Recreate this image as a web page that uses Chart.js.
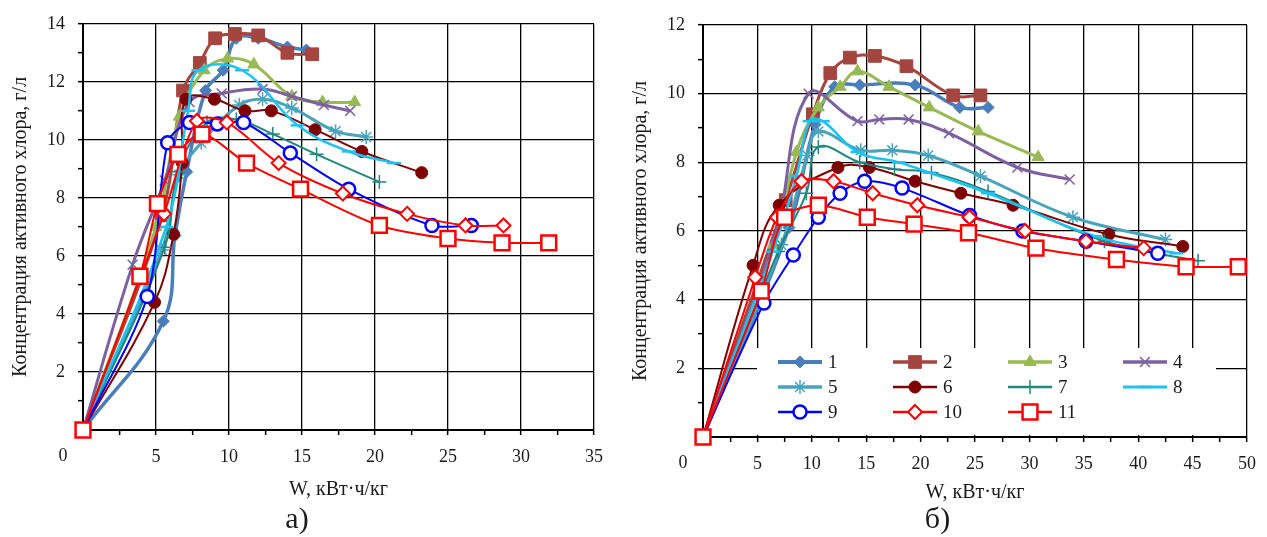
<!DOCTYPE html>
<html>
<head>
<meta charset="utf-8">
<script src="https://cdn.jsdelivr.net/npm/chart.js@4.4.1/dist/chart.umd.min.js"></script>
<style>
    body { margin: 0; background: #fff; width: 1267px; height: 537px; overflow: hidden; position: relative; }
    .box { position: absolute; top: 0; height: 537px; }
    #boxA { left: 0; width: 620px; }
    #boxB { left: 620px; width: 647px; }
</style>
</head>
<body>
<div class="box" id="boxA"><canvas id="chartA"></canvas></div>
<div class="box" id="boxB"><canvas id="chartB"></canvas></div>
<script>
// series names (legend numbers)
const seriesLabels = ["1", "2", "3", "4", "5", "6", "7", "8", "9", "10", "11"];

// panel a) : [W, concentration]
const a1 = [[0,0],[5.5,3.75],[6.3,6.7],[7.1,8.9],[8.4,11.7],[9.6,12.4],[10.5,13.5],[12.0,13.5],[14.0,13.2],[15.3,13.1]];
const a2 = [[0,0],[5.4,7.4],[6.85,11.7],[8.0,12.65],[9.05,13.5],[10.4,13.65],[12.0,13.6],[14.0,13.0],[15.7,12.95]];
const a3 = [[0,0],[5.0,7.0],[6.6,10.8],[8.3,12.4],[9.9,12.8],[11.7,12.6],[14.3,11.5],[16.4,11.3],[18.6,11.3]];
const a4 = [[0,0],[3.4,5.7],[5.6,8.6],[7.3,11.3],[9.5,11.6],[12.3,11.75],[14.3,11.5],[16.5,11.2],[18.3,11.0]];
const a5 = [[0,0],[5.4,6.2],[6.6,8.8],[8.1,9.9],[10.7,11.2],[12.3,11.4],[14.3,11.1],[17.3,10.3],[19.4,10.1]];
const a6 = [[0,0],[4.9,4.4],[6.2,6.75],[6.8,9.2],[7.05,11.4],[9.0,11.4],[11.1,11.0],[12.9,11.0],[15.9,10.35],[19.1,9.6],[23.2,8.87]];
const a7 = [[0,0],[5.6,6.3],[6.5,8.9],[8.5,10.6],[10.5,10.7],[13.0,10.2],[16.0,9.5],[20.3,8.55]];
const a8 = [[0,0],[5.7,7.0],[7.2,11.0],[7.9,12.4],[10.9,12.4],[14.7,10.5],[18.2,9.6],[21.3,9.2]];
const a9 = [[0,0],[4.4,4.6],[5.8,9.9],[7.3,10.6],[9.2,10.55],[11.0,10.6],[14.2,9.55],[18.2,8.3],[23.9,7.05],[26.6,7.05]];
const a10 = [[0,0],[5.55,7.45],[7.8,10.65],[9.85,10.6],[13.4,9.2],[17.8,8.15],[22.2,7.45],[26.2,7.05],[28.8,7.05]];
const a11 = [[0,0],[3.9,5.3],[5.1,7.8],[6.5,9.5],[8.15,10.2],[11.2,9.2],[14.9,8.3],[20.3,7.05],[25.0,6.6],[28.7,6.45],[31.9,6.45]];

// panel б)
const b1 = [[0,0],[7.9,6.1],[10.3,9.1],[12.1,10.2],[14.4,10.25],[19.5,10.25],[23.6,9.6],[26.2,9.6]];
const b2 = [[0,0],[7.6,6.9],[10.1,9.4],[11.7,10.6],[13.5,11.05],[15.8,11.1],[18.7,10.8],[23.0,9.95],[25.5,9.95]];
const b3 = [[0,0],[6.5,5.6],[8.6,8.3],[10.6,9.6],[12.6,10.2],[14.2,10.65],[17.1,10.2],[20.8,9.6],[25.3,8.9],[30.8,8.15]];
const b4 = [[0,0],[6.6,5.8],[9.7,10.0],[14.2,9.2],[16.2,9.25],[18.9,9.25],[22.6,8.85],[28.9,7.85],[33.7,7.5]];
const b5 = [[0,0],[7.2,5.6],[9.6,8.2],[10.6,8.9],[14.5,8.35],[17.4,8.35],[20.7,8.2],[25.5,7.6],[34.0,6.4],[42.5,5.75]];
const b6 = [[0,0],[4.6,5.0],[7.0,6.75],[12.4,7.85],[15.3,7.85],[19.5,7.45],[23.7,7.1],[28.5,6.75],[37.3,5.9],[44.1,5.55]];
const b7 = [[0,0],[6.9,5.4],[9.5,7.1],[10.6,8.45],[14.4,8.0],[17.6,7.8],[21.0,7.7],[26.2,7.15],[36.9,5.7],[45.5,5.13]];
const b8 = [[0,0],[6.4,5.4],[8.6,7.6],[9.8,9.2],[11.0,9.2],[14.2,8.3],[18.0,8.0],[20.8,7.7],[26.2,7.1],[36.0,5.85],[43.5,5.35]];
const b9 = [[0,0],[5.6,3.9],[8.3,5.3],[10.6,6.4],[12.6,7.1],[14.85,7.45],[18.3,7.25],[24.5,6.45],[29.4,6.0],[35.2,5.7],[41.8,5.35]];
const b10 = [[0,0],[4.8,4.65],[6.8,6.4],[9.05,7.45],[12.0,7.45],[15.6,7.1],[19.7,6.75],[24.5,6.4],[29.6,6.0],[35.2,5.7],[40.5,5.5]];
const b11 = [[0,0],[5.35,4.25],[7.5,6.4],[10.6,6.75],[15.1,6.4],[19.4,6.2],[24.4,5.95],[30.6,5.5],[38.0,5.17],[44.4,4.96],[49.2,4.96]];

// axis texts
const yTitle = "Концентрация активного хлора, г/л";
const xTitle = "W, кВт·ч/кг";
const captionA = "а)";
const captionB = "б)";

// styles
const lineColors = ["#4A7EBB", "#A5453F", "#98B954", "#7D60A0", "#48A4BD", "#7F0000", "#21867F", "#1CC3F2", "#0000FF", "#FF0000", "#FF0000"];
const fillColors = ["#4A7EBB", "#A5453F", "#98B954", "#7D60A0", "#48A4BD", "#7F0000", "#21867F", "#1CC3F2", "#FFFFFF", "#FFFFFF", "#FFFFFF"];
const markerStyles = ["rectRot", "rect", "triangle", "crossRot", "star", "circle", "cross", "line", "circle", "rectRot", "rect"];
const markerSizes = [6, 9, 7, 7, 7, 6, 7, 7, 6.5, 7, 10.5];
const markerEdges = [1, 1, 1, 1.5, 1.5, 1, 1.5, 2.5, 2.5, 2, 2.5];
const lineWidths = [3.5, 3, 3, 3, 3, 2, 2, 2.5, 2, 2, 2];

const FONT = "'Liberation Serif', 'Times New Roman', serif";
const TEXT = "#1a1a1a";

function makeSets(list) {
    return list.map((pts, i) => ({
        label: seriesLabels[i],
        data: pts.map(p => ({ x: p[0], y: p[1] })),
        borderColor: lineColors[i],
        backgroundColor: fillColors[i],
        pointBorderColor: lineColors[i],
        pointBackgroundColor: fillColors[i],
        borderWidth: lineWidths[i],
        pointStyle: markerStyles[i],
        pointRadius: markerSizes[i],
        pointBorderWidth: markerEdges[i],
        tension: i >= 8 ? 0.3 : 0.4,
        fill: false,
        clip: false,
        order: 11 - i
    }));
}

function axis(max, step, major, title, size, titlePad, tickPad) {
    return {
        type: "linear",
        min: 0,
        max: max,
        ticks: {
            stepSize: step,
            autoSkip: false,
            maxRotation: 0,
            padding: tickPad,
            color: TEXT,
            font: { family: FONT, size: 18 },
            callback: v => (v !== 0 && v % major === 0) ? v : ""
        },
        grid: {
            color: c => (c.tick && c.tick.value % major === 0) ? "#000" : "rgba(0,0,0,0)",
            lineWidth: 1.3,
            tickColor: "#000",
            tickLength: 5,
            tickWidth: 1.5
        },
        border: { color: "#000", width: 2 },
        title: {
            display: true,
            text: title,
            color: TEXT,
            font: { family: FONT, size: 20 },
            padding: titlePad
        },
        afterFit: s => {
            if (s.isHorizontal()) s.height = size; else s.width = size;
        }
    };
}

// the lone "0" sits in the corner, on the row of the x labels
const cornerZero = {
    id: "cornerZero",
    afterDraw(chart) {
        const { ctx, chartArea } = chart;
        ctx.save();
        ctx.font = "18px " + FONT;
        ctx.fillStyle = TEXT;
        ctx.textAlign = "center";
        ctx.textBaseline = "middle";
        ctx.fillText("0", chartArea.left - 20, chartArea.bottom + 26);
        ctx.restore();
    }
};

const boxLegend = {
    id: "boxLegend",
    afterDatasetsDraw(chart) {
        const ctx = chart.ctx;
        const { left, bottom } = chart.chartArea;
        ctx.save();
        ctx.fillStyle = "#fff";
        ctx.fillRect(left + 54, bottom - 89, 459, 87);
        chart.data.datasets.forEach((ds, i) => {
            const col = i % 4, row = Math.floor(i / 4);
            const x0 = left + 75 + col * 115;
            const y0 = bottom - 75 + row * 25;
            ctx.strokeStyle = ds.borderColor;
            ctx.lineWidth = ds.borderWidth + 0.5;
            ctx.beginPath();
            ctx.moveTo(x0, y0);
            ctx.lineTo(x0 + 44, y0);
            ctx.stroke();
            ctx.fillStyle = ds.pointBackgroundColor;
            ctx.strokeStyle = ds.pointBorderColor;
            ctx.lineWidth = ds.pointBorderWidth;
            Chart.helpers.drawPoint(ctx, {
                pointStyle: ds.pointStyle,
                radius: ds.pointRadius,
                borderWidth: ds.pointBorderWidth,
                rotation: 0
            }, x0 + 22, y0);
            ctx.fillStyle = TEXT;
            ctx.font = "19px " + FONT;
            ctx.textAlign = "left";
            ctx.textBaseline = "middle";
            ctx.fillText(ds.label, x0 + 50, y0 + 1);
        });
        ctx.restore();
    }
};

function makeChart(id, sets, xMax, yMax, caption, pad, xHeight, xTitlePad, legend) {
    return new Chart(document.getElementById(id), {
        type: "line",
        data: { datasets: makeSets(sets) },
        options: {
            responsive: true,
            maintainAspectRatio: false,
            animation: false,
            layout: { padding: pad },
            plugins: {
                legend: { display: false },
                tooltip: { enabled: false },
                title: {
                    display: true,
                    position: "bottom",
                    text: caption,
                    color: TEXT,
                    font: { family: FONT, size: 30, weight: "normal", lineHeight: 1 },
                    padding: { top: 0, bottom: 2 }
                }
            },
            scales: {
                x: axis(xMax, 2.5, 5, xTitle, xHeight, { top: 0, bottom: xTitlePad }, 11),
                y: axis(yMax, 1, 2, yTitle, 83, { top: 9, bottom: 0 }, 13)
            }
        },
        plugins: legend ? [cornerZero, boxLegend] : [cornerZero]
    });
}

makeChart("chartA", [a1, a2, a3, a4, a5, a6, a7, a8, a9, a10, a11], 35, 14, captionA,
    { left: 0, right: 26, top: 21, bottom: 0 }, 75, 3, false);
makeChart("chartB", [b1, b2, b3, b4, b5, b6, b7, b8, b9, b10, b11], 50, 12, captionB,
    { left: 0, right: 12, top: 25, bottom: 0 }, 68, 0, true);
</script>
</body>
</html>
